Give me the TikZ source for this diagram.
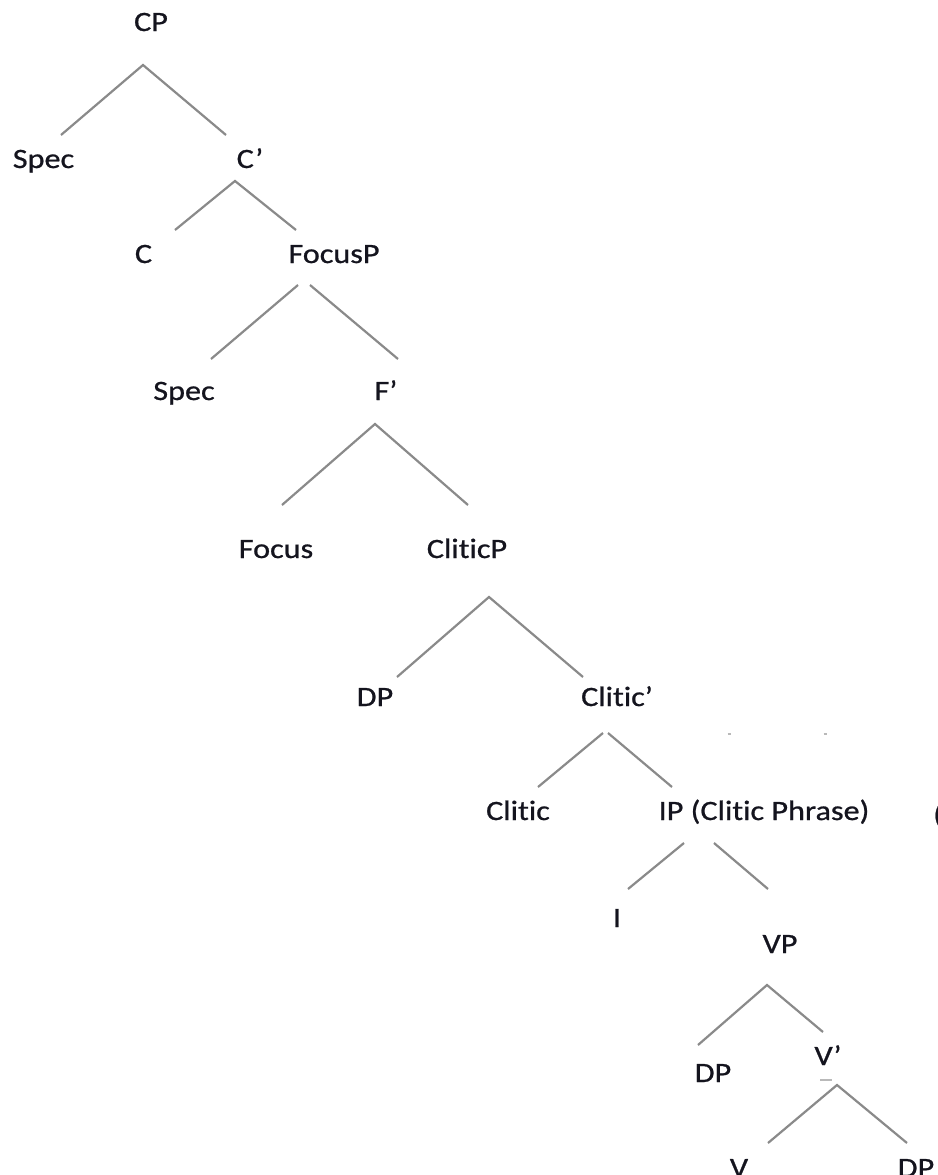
\documentclass[tikz,border=0pt]{standalone}
\usepackage{fontspec}
\setmainfont{Carlito}[FakeStretch=1.15, FakeBold=0.8, Ligatures={NoCommon}, RawFeature={-liga;-dlig}]
\definecolor{linegray}{RGB}{138,138,138}
\definecolor{textdark}{RGB}{20,20,30}
\begin{document}
\begin{tikzpicture}[x=1pt,y=-1pt,
  lbl/.style={anchor=base, inner sep=0pt, text=textdark, font=\fontsize{28pt}{30pt}\selectfont},
  branch/.style={draw=linegray, line width=2.2pt},
  speck/.style={draw=linegray!60, line width=1.5pt}]
\useasboundingbox (0,0) rectangle (937,1175);
% labels
\node[lbl] (cp) at (151,31) {CP};
\node[lbl] (spec1) at (43.5,168) {Spec};
\node[lbl] (cbar) at (250,168) {C’};
\node[lbl] (c) at (143.5,263) {C};
\node[lbl] (focp) at (334,263) {FocusP};
\node[lbl] (spec2) at (184,400) {Spec};
\node[lbl] (fbar) at (386,400) {F’};
\node[lbl] (focus) at (276,558) {Focus};
\node[lbl] (clp) at (467,558) {CliticP};
\node[lbl] (dp1) at (375,706) {DP};
\node[lbl] (clbar) at (617,706) {Clitic’};
\node[lbl] (cl) at (518,820) {Clitic};
\node[lbl] (ip) at (764,820) {IP (Clitic Phrase)};
\node[lbl, anchor=base west] (paren) at (933,824) {(};
\node[lbl] (i) at (617,927) {I};
\node[lbl] (vp) at (780,953) {VP};
\node[lbl] (dp2) at (713,1082) {DP};
\node[lbl] (vbar) at (828,1065) {V’};
\node[lbl] (v) at (739,1177) {V};
\node[lbl] (dp3) at (916,1177) {DP};
% connector end points
\coordinate (cp-a) at (143,65);
\coordinate (spec1-t) at (61,135);
\coordinate (cbar-t) at (226,135);
\coordinate (cbar-a) at (235,181);
\coordinate (c-t) at (175,230);
\coordinate (focp-t) at (296,230);
\coordinate (focp-al) at (298,285);
\coordinate (focp-ar) at (310,285);
\coordinate (spec2-t) at (211,359);
\coordinate (fbar-t) at (398,359);
\coordinate (fbar-a) at (375,424);
\coordinate (focus-t) at (282,505);
\coordinate (clp-t) at (468,505);
\coordinate (clp-a) at (489,597);
\coordinate (dp1-t) at (397,677);
\coordinate (clbar-t) at (583,677);
\coordinate (clbar-al) at (603,733);
\coordinate (clbar-ar) at (608,733);
\coordinate (cl-t) at (538,787);
\coordinate (ip-t) at (672,787);
\coordinate (ip-al) at (684,843);
\coordinate (ip-ar) at (714,843);
\coordinate (i-t) at (628,889);
\coordinate (vp-t) at (768,889);
\coordinate (vp-a) at (767,985);
\coordinate (dp2-t) at (698,1045);
\coordinate (vbar-t) at (823,1032);
\coordinate (vbar-a) at (837,1085);
\coordinate (v-t) at (768,1143);
\coordinate (dp3-t) at (907,1143);
% branches
\draw[branch] (spec1-t) -- (cp-a) -- (cbar-t);
\draw[branch] (c-t) -- (cbar-a) -- (focp-t);
\draw[branch] (spec2-t) -- (focp-al);
\draw[branch] (focp-ar) -- (fbar-t);
\draw[branch] (focus-t) -- (fbar-a) -- (clp-t);
\draw[branch] (dp1-t) -- (clp-a) -- (clbar-t);
\draw[branch] (cl-t) -- (clbar-al);
\draw[branch] (clbar-ar) -- (ip-t);
\draw[branch] (i-t) -- (ip-al);
\draw[branch] (ip-ar) -- (vp-t);
\draw[branch] (dp2-t) -- (vp-a) -- (vbar-t);
\draw[branch] (v-t) -- (vbar-a) -- (dp3-t);
% stray specks
\coordinate (s1a) at (727.5,734); \coordinate (s1b) at (730.5,734);
\coordinate (s2a) at (823.5,734); \coordinate (s2b) at (826.5,734);
\coordinate (s3a) at (820,1080); \coordinate (s3b) at (832,1080);
\draw[speck] (s1a) -- (s1b);
\draw[speck] (s2a) -- (s2b);
\draw[speck] (s3a) -- (s3b);
\end{tikzpicture}
\end{document}
